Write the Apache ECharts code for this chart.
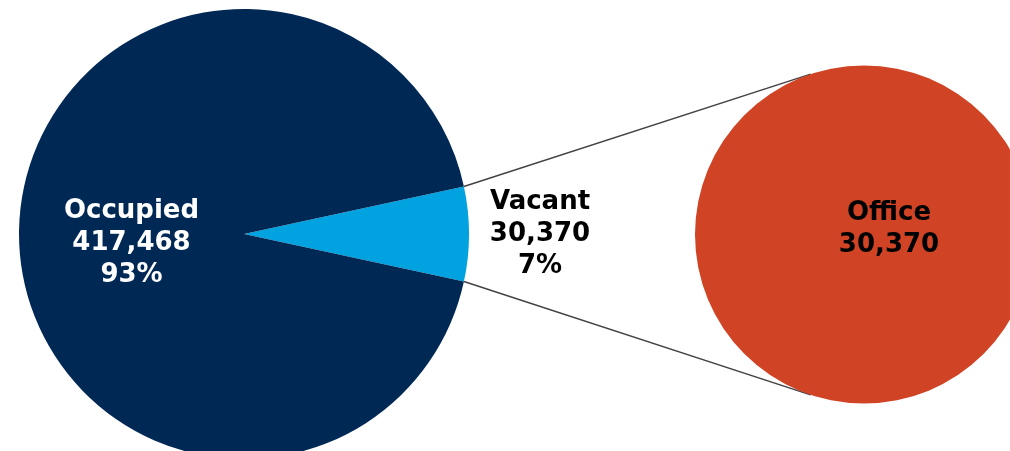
<!DOCTYPE html>
<html>
<head>
<meta charset="utf-8">
<script src="https://cdn.jsdelivr.net/npm/echarts@6/dist/echarts.min.js"></script>
<style>
html,body{margin:0;padding:0;background:#fff;}
#chart{width:1010px;height:451px;}
</style>
</head>
<body>
<div id="chart"></div>
<script>
// Data
const categories = ['Vacant', 'Occupied'];
const values = [30370, 417468];
const subCategories = ['Office'];
const subValues = [30370];

const mainColors = ['#00A3E0', '#002855'];
const subColors = ['#D04325'];

const total = values.reduce((a, b) => a + b, 0);
const vacantHalfAngle = 360 * values[0] / total / 2;

const cx = 244, cy = 234, R = 225;
const scx = 864, scy = 234.5, sR = 169;
const connAngle = 108.4;

function fmt(n) { return n.toLocaleString('en-US'); }

const chart = echarts.init(document.getElementById('chart'), null, {renderer: 'canvas'});

const rad = a => a * Math.PI / 180;
const p1 = [cx + R * Math.cos(rad(vacantHalfAngle)), cy - R * Math.sin(rad(vacantHalfAngle))];
const p2 = [cx + R * Math.cos(rad(-vacantHalfAngle)), cy - R * Math.sin(rad(-vacantHalfAngle))];
const q1 = [scx + sR * Math.cos(rad(connAngle)), scy - sR * Math.sin(rad(connAngle))];
const q2 = [scx + sR * Math.cos(rad(-connAngle)), scy - sR * Math.sin(rad(-connAngle))];

const labelFont = {
  fontFamily: 'DejaVu Sans',
  fontWeight: 'bold',
  fontSize: 26,
  lineHeight: 32,
  align: 'center'
};

chart.setOption({
  animation: false,
  backgroundColor: '#ffffff',
  graphic: [
    {type: 'line', z: 1, shape: {x1: p1[0], y1: p1[1], x2: q1[0], y2: q1[1]},
     style: {stroke: '#454045', lineWidth: 1.5}},
    {type: 'line', z: 1, shape: {x1: p2[0], y1: p2[1], x2: q2[0], y2: q2[1]},
     style: {stroke: '#454045', lineWidth: 1.5}}
  ],
  series: [
    {
      type: 'pie',
      center: [cx, cy],
      radius: [0, R],
      startAngle: vacantHalfAngle,
      clockwise: true,
      avoidLabelOverlap: false,
      percentPrecision: 0,
      emphasis: {disabled: true},
      silent: true,
      itemStyle: {borderWidth: 0},
      labelLine: {show: false},
      label: Object.assign({
        show: true,
        position: 'inside',
        formatter: p => p.name + '\n' + fmt(p.value) + '\n' + p.percent + '%'
      }, labelFont),
      labelLayout: function (params) {
        if (params.dataIndex === 0) {
          return {x: cx + R + 71, y: cy, align: 'center', verticalAlign: 'middle'};
        }
        return {x: cx - R / 2 + 0, y: cy + 9, align: 'center', verticalAlign: 'middle'};
      },
      data: categories.map((c, i) => ({
        name: c,
        value: values[i],
        itemStyle: {color: mainColors[i]},
        label: {color: i === 0 ? '#000000' : '#ffffff'}
      }))
    },
    {
      type: 'pie',
      center: [scx, scy],
      radius: [0, sR],
      avoidLabelOverlap: false,
      emphasis: {disabled: true},
      silent: true,
      itemStyle: {borderWidth: 0},
      labelLine: {show: false},
      label: Object.assign({
        show: true,
        position: 'center',
        color: '#000000',
        formatter: p => p.name + '\n' + fmt(p.value)
      }, labelFont),
      labelLayout: function () {
        return {x: scx + 25, y: scy - 5, align: 'center', verticalAlign: 'middle'};
      },
      data: subCategories.map((c, i) => ({
        name: c,
        value: subValues[i],
        itemStyle: {color: subColors[i]}
      }))
    }
  ]
});
</script>
</body>
</html>
